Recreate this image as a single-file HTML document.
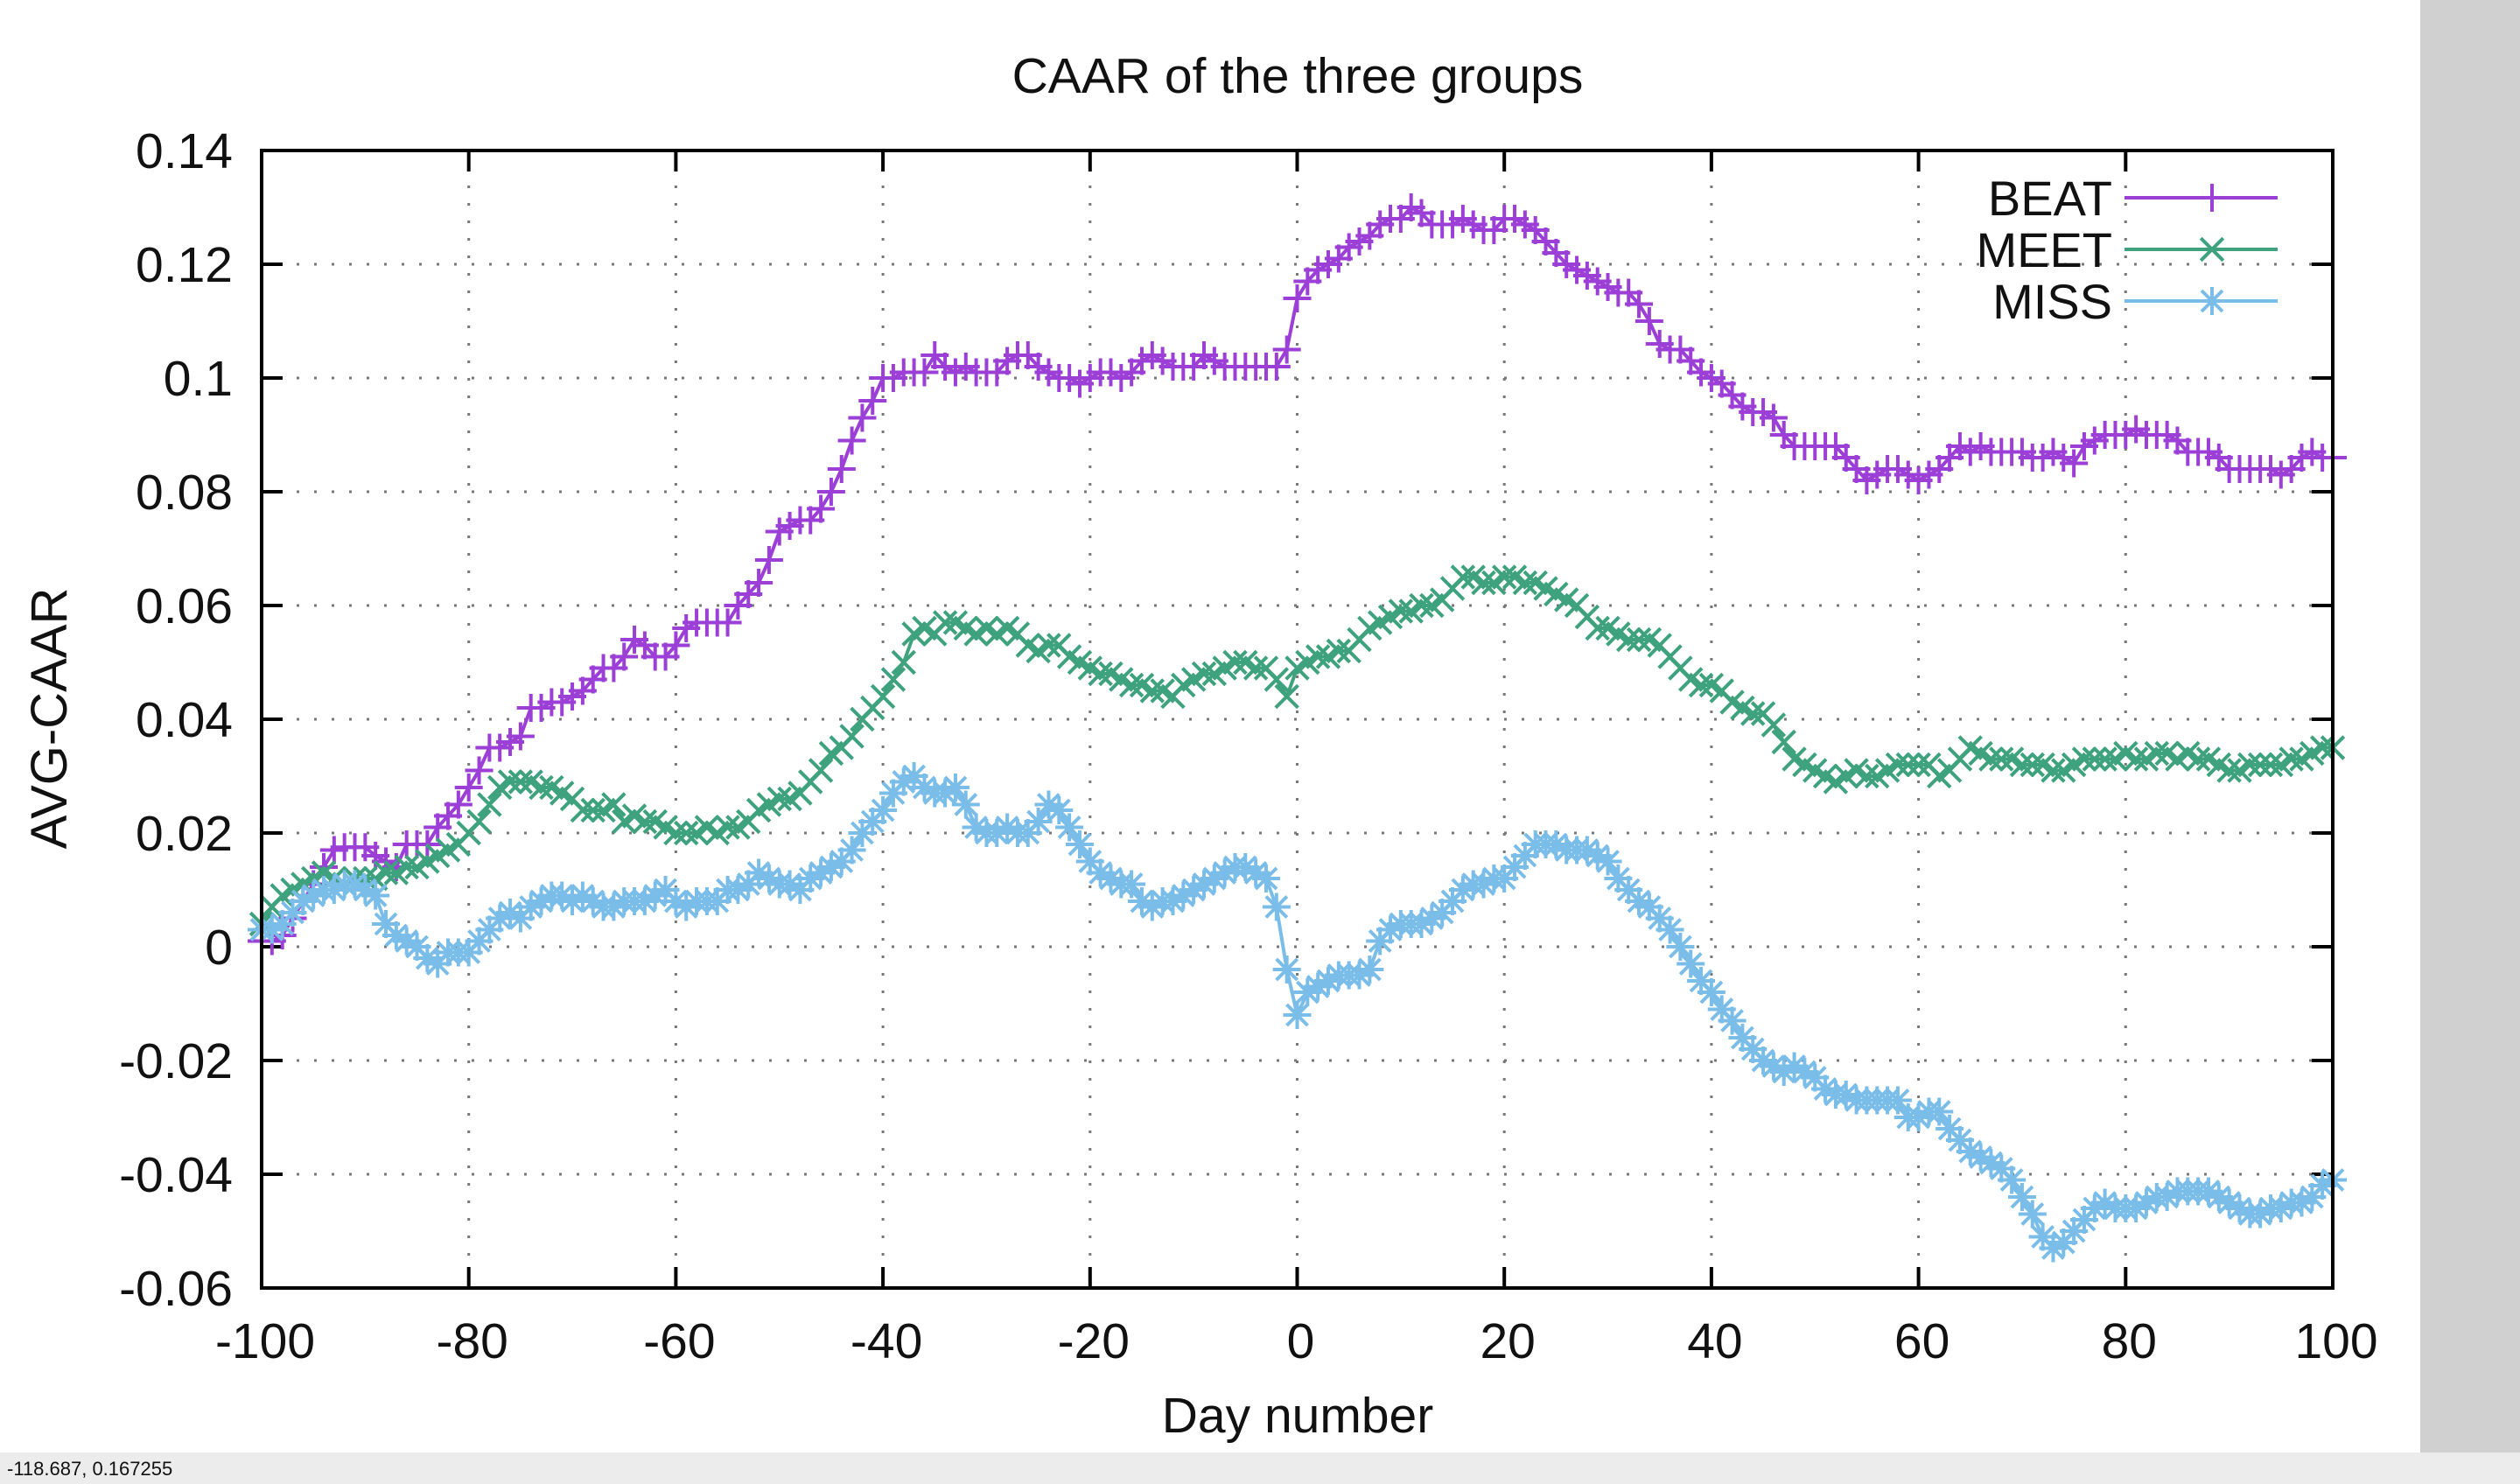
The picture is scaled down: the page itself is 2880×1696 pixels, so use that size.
<!DOCTYPE html>
<html><head><meta charset="utf-8"><style>
html,body{margin:0;padding:0;background:#fff;}
svg{display:block;font-family:"Liberation Sans",sans-serif;}
</style></head><body>
<svg id="chart" width="2880" height="1696" viewBox="0 0 2880 1696" xmlns="http://www.w3.org/2000/svg">
<rect x="0" y="0" width="2880" height="1696" fill="#fff"/>
<rect x="2766" y="0" width="114" height="1660" fill="#d0d0d0"/>
<rect x="0" y="1660" width="2880" height="36" fill="#ececec"/>
<text x="8" y="1686" font-size="22" fill="#111">-118.687,  0.167255</text>
<text x="1483" y="106" font-size="57" text-anchor="middle" fill="#111">CAAR of the three groups</text>
<text transform="translate(76,821) rotate(-90)" font-size="58" text-anchor="middle" fill="#111">AVG-CAAR</text>
<text x="1483" y="1637" font-size="57" text-anchor="middle" fill="#111">Day number</text>
<g id="grid"></g><g id="ticks"></g><g id="series"></g>
<rect x="299" y="172" width="2367" height="1300" fill="none" stroke="#000" stroke-width="4"/>
<g id="legend"></g>
</svg>
<script>
const xTicks=[-100,-80,-60,-40,-20,0,20,40,60,80,100];
const yTicks=[-0.06,-0.04,-0.02,0,0.02,0.04,0.06,0.08,0.1,0.12,0.14];
const yTickLabels=["-0.06","-0.04","-0.02","0","0.02","0.04","0.06","0.08","0.1","0.12","0.14"];
const dayStart=-100;
const beat=[0.001,0.001,0.002,0.005,0.008,0.011,0.014,0.017,0.0175,0.0175,
0.0175,0.016,0.015,0.014,0.018,0.018,0.018,0.021,0.023,0.025,
0.028,0.031,0.035,0.035,0.036,0.037,0.042,0.042,0.043,0.043,
0.044,0.045,0.047,0.049,0.049,0.051,0.054,0.053,0.051,0.051,
0.053,0.056,0.057,0.057,0.057,0.057,0.060,0.062,0.064,0.068,
0.073,0.074,0.075,0.075,0.077,0.080,0.084,0.089,0.093,0.096,
0.100,0.100,0.101,0.101,0.101,0.104,0.102,0.101,0.102,0.101,
0.101,0.101,0.103,0.104,0.104,0.102,0.101,0.100,0.100,0.099,
0.100,0.101,0.101,0.100,0.101,0.103,0.104,0.103,0.102,0.102,
0.102,0.104,0.103,0.102,0.102,0.102,0.102,0.102,0.102,0.105,
0.114,0.117,0.119,0.120,0.121,0.123,0.124,0.125,0.127,0.128,
0.128,0.130,0.129,0.127,0.127,0.127,0.128,0.127,0.126,0.126,
0.128,0.128,0.127,0.126,0.124,0.122,0.120,0.119,0.118,0.117,
0.116,0.115,0.115,0.113,0.110,0.106,0.105,0.105,0.103,0.101,
0.100,0.099,0.097,0.095,0.094,0.094,0.093,0.090,0.088,0.088,
0.088,0.088,0.088,0.086,0.084,0.082,0.083,0.084,0.084,0.083,
0.082,0.083,0.084,0.086,0.088,0.087,0.088,0.087,0.087,0.087,
0.087,0.086,0.086,0.087,0.086,0.085,0.088,0.089,0.090,0.090,
0.090,0.091,0.090,0.090,0.090,0.089,0.087,0.087,0.087,0.086,
0.084,0.084,0.084,0.084,0.084,0.083,0.084,0.086,0.087,0.086,
0.086];
const meet=[0.004,0.007,0.009,0.010,0.011,0.012,0.013,0.012,0.011,0.012,
0.012,0.012,0.013,0.013,0.014,0.014,0.015,0.016,0.017,0.018,
0.020,0.022,0.025,0.028,0.029,0.029,0.029,0.028,0.028,0.027,
0.026,0.024,0.024,0.024,0.025,0.022,0.023,0.022,0.022,0.021,
0.020,0.020,0.020,0.021,0.020,0.021,0.021,0.022,0.024,0.025,
0.026,0.026,0.027,0.029,0.031,0.034,0.035,0.037,0.040,0.042,
0.044,0.047,0.050,0.055,0.056,0.055,0.057,0.057,0.056,0.055,
0.056,0.055,0.056,0.055,0.053,0.052,0.053,0.053,0.051,0.050,
0.049,0.048,0.048,0.047,0.046,0.046,0.045,0.045,0.044,0.046,
0.047,0.048,0.048,0.049,0.050,0.050,0.049,0.049,0.047,0.044,
0.049,0.050,0.051,0.051,0.052,0.052,0.054,0.056,0.057,0.058,
0.059,0.059,0.060,0.060,0.061,0.063,0.065,0.065,0.064,0.064,
0.065,0.065,0.064,0.064,0.063,0.062,0.061,0.060,0.058,0.056,
0.056,0.055,0.054,0.054,0.054,0.053,0.051,0.049,0.047,0.046,
0.046,0.045,0.043,0.042,0.041,0.041,0.039,0.036,0.033,0.032,
0.031,0.030,0.029,0.030,0.031,0.030,0.030,0.031,0.032,0.032,
0.032,0.032,0.030,0.031,0.033,0.035,0.034,0.033,0.033,0.033,
0.032,0.032,0.032,0.031,0.031,0.032,0.033,0.033,0.033,0.033,
0.034,0.033,0.033,0.034,0.034,0.033,0.034,0.033,0.033,0.032,
0.031,0.031,0.032,0.032,0.032,0.032,0.033,0.033,0.034,0.035,
0.035];
const miss=[0.003,0.003,0.004,0.006,0.008,0.009,0.010,0.010,0.011,0.011,
0.010,0.009,0.004,0.002,0.001,0.000,-0.002,-0.003,-0.001,-0.001,
-0.001,0.001,0.003,0.005,0.006,0.005,0.007,0.008,0.009,0.009,
0.008,0.009,0.008,0.007,0.007,0.008,0.008,0.008,0.009,0.010,
0.008,0.007,0.008,0.008,0.008,0.010,0.010,0.011,0.013,0.012,
0.011,0.011,0.010,0.012,0.013,0.014,0.015,0.017,0.020,0.022,
0.024,0.027,0.029,0.030,0.028,0.027,0.027,0.028,0.025,0.021,
0.020,0.020,0.021,0.020,0.020,0.022,0.025,0.024,0.021,0.018,
0.015,0.013,0.012,0.011,0.011,0.008,0.007,0.008,0.008,0.009,
0.010,0.011,0.012,0.013,0.014,0.014,0.013,0.012,0.007,-0.004,
-0.012,-0.008,-0.007,-0.006,-0.005,-0.005,-0.005,-0.004,0.001,0.003,
0.004,0.004,0.004,0.005,0.006,0.008,0.010,0.011,0.011,0.012,
0.012,0.014,0.016,0.018,0.018,0.018,0.017,0.017,0.017,0.016,
0.015,0.012,0.010,0.008,0.007,0.005,0.003,0.000,-0.003,-0.006,
-0.008,-0.011,-0.013,-0.016,-0.018,-0.020,-0.021,-0.022,-0.021,-0.022,
-0.023,-0.025,-0.026,-0.026,-0.027,-0.027,-0.027,-0.027,-0.027,-0.030,
-0.030,-0.029,-0.029,-0.032,-0.034,-0.036,-0.037,-0.038,-0.039,-0.041,
-0.044,-0.047,-0.051,-0.053,-0.052,-0.050,-0.048,-0.046,-0.045,-0.046,
-0.046,-0.046,-0.045,-0.044,-0.044,-0.043,-0.043,-0.043,-0.043,-0.044,
-0.045,-0.046,-0.047,-0.047,-0.046,-0.046,-0.045,-0.045,-0.044,-0.042,
-0.041];
const seriesNames=["BEAT","MEET","MISS"];
const seriesColors=["#9b3fd6","#3fa27e","#7bbde9"];

const NS="http://www.w3.org/2000/svg";
const L=299,R=2666,T=172,B=1472,xMin=-100,xMax=100,yMin=-0.06,yMax=0.14;
function xs(v){return L+(v-xMin)/(xMax-xMin)*(R-L);}
function ys(v){return B-(v-yMin)/(yMax-yMin)*(B-T);}
function mk(tag,attrs,parent){const e=document.createElementNS(NS,tag);for(const k in attrs)e.setAttribute(k,attrs[k]);parent.appendChild(e);return e;}
const grid=document.getElementById('grid'),ticks=document.getElementById('ticks');
xTicks.forEach((t,i)=>{
  const x=xs(t);
  if(i>0&&i<xTicks.length-1){
    const g=mk('line',{x1:x,y1:T,x2:x,y2:B,stroke:'#777','stroke-width':3,'stroke-dasharray':'3,17'},grid);
    
    
  }
  const a=mk('line',{x1:x,y1:B,x2:x,y2:B-24,stroke:'#000','stroke-width':4},ticks);
  
  
  const b=mk('line',{x1:x,y1:T,x2:x,y2:T+24,stroke:'#000','stroke-width':4},ticks);
  
  
  const tx=mk('text',{x:x+4,y:1552,'font-size':57,'text-anchor':'middle',fill:'#111'},ticks);
  tx.textContent=String(t);
  
  
});
yTicks.forEach((t,i)=>{
  const y=ys(t);
  if(i>0&&i<yTicks.length-1){
    const g=mk('line',{x1:L,y1:y,x2:R,y2:y,stroke:'#777','stroke-width':3,'stroke-dasharray':'3,17'},grid);
    
    
  }
  const a=mk('line',{x1:L,y1:y,x2:L+24,y2:y,stroke:'#000','stroke-width':4},ticks);
  
  
  const b=mk('line',{x1:R,y1:y,x2:R-24,y2:y,stroke:'#000','stroke-width':4},ticks);
  
  
  const tx=mk('text',{x:266,y:y+20,'font-size':57,'text-anchor':'end',fill:'#111'},ticks);
  tx.textContent=yTickLabels[i];
  
  
});
function marker(type,x,y,c,parent){
  const s=16;let d;
  if(type===0)d=`M${x-s},${y}H${x+s}M${x},${y-s}V${y+s}`;
  else if(type===1)d=`M${x-s*0.8},${y-s*0.8}L${x+s*0.8},${y+s*0.8}M${x-s*0.8},${y+s*0.8}L${x+s*0.8},${y-s*0.8}`;
  else d=`M${x-s},${y}H${x+s}M${x},${y-s}V${y+s}M${x-s*0.75},${y-s*0.75}L${x+s*0.75},${y+s*0.75}M${x-s*0.75},${y+s*0.75}L${x+s*0.75},${y-s*0.75}`;
  const p=mk('path',{d:d,stroke:c,'stroke-width':4,fill:'none'},parent);
  
  
}
const sg=document.getElementById('series');
[beat,meet,miss].forEach((arr,si)=>{
  const g=mk('g',{},sg);
  
  
  const pts=arr.map((v,i)=>xs(dayStart+i).toFixed(1)+','+ys(v).toFixed(1)).join(' ');
  const pl=mk('polyline',{points:pts,fill:'none',stroke:seriesColors[si],'stroke-width':4,'stroke-linejoin':'round'},g);
  
  
  arr.forEach((v,i)=>marker(si,xs(dayStart+i),ys(v),seriesColors[si],g));
});
const lg=document.getElementById('legend');
seriesNames.forEach((n,i)=>{
  const y=226+i*59;
  const g=mk('g',{},lg);
  
  
  const t=mk('text',{x:2414,y:y+20,'font-size':56,'text-anchor':'end',fill:'#111'},g);
  t.textContent=n;
  
  
  const l=mk('line',{x1:2428,y1:y,x2:2603,y2:y,stroke:seriesColors[i],'stroke-width':4},g);
  
  
  marker(i,2528,y,seriesColors[i],g);
});
</script>
</body></html>
